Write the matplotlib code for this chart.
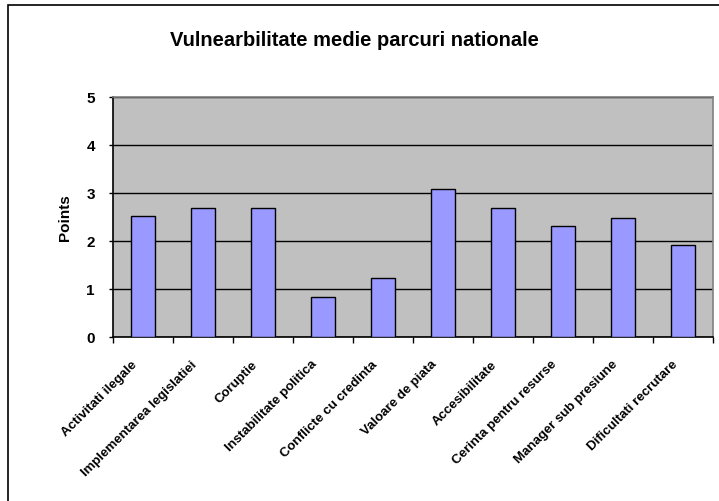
import numpy as np
import matplotlib.pyplot as plt
import matplotlib.transforms as mtransforms
from matplotlib.patches import Rectangle

plt.rcParams['font.family'] = ['Liberation Sans', 'DejaVu Sans']

# categorii si punctaje medii
categorii = ["Activitati ilegale", "Implementarea legislatiei", "Coruptie",
             "Instabilitate politica", "Conflicte cu credinta", "Valoare de piata",
             "Accesibilitate", "Cerinta pentru resurse", "Manager sub presiune",
             "Dificultati recrutare"]
puncte = [2.52, 2.68, 2.68, 0.84, 1.22, 3.08, 2.68, 2.31, 2.47, 1.91]

fig = plt.figure(figsize=(7.19, 5.02), dpi=100)
ax = fig.add_axes([0.157, 0.327, 0.835, 0.478])

x = np.arange(len(categorii))
ax.bar(x, puncte, width=0.4, color="#9999ff", edgecolor="black", linewidth=1.0, zorder=3)

ax.set_facecolor("#c0c0c0")
ax.set_xlim(-0.5, len(categorii) - 0.5)
ax.set_ylim(0, 5)
ax.set_yticks(range(6))
ax.yaxis.grid(True, color="black", linewidth=1.0, zorder=1)
ax.set_axisbelow(True)

# ticks between categories on the x axis
ax.set_xticks(np.arange(-0.5, len(categorii), 1.0), minor=False)
ax.set_xticklabels([])
ax.set_xticks(x, minor=True)
ax.set_xticklabels(categorii, minor=True, rotation=45, ha="right",
                   rotation_mode="anchor", fontsize=9.5, fontweight="bold")
ax.tick_params(axis="x", which="minor", length=0, pad=15)
ax.tick_params(axis="x", which="major", length=4, direction="out", width=1)
ax.tick_params(axis="y", length=3, direction="out", width=1, labelsize=11, pad=10)
for lab in ax.get_yticklabels():
    lab.set_fontweight("bold")

# mut etichetele putin spre stanga
offset = mtransforms.ScaledTranslation(-12 / 100, 0, fig.dpi_scale_trans)
for lab in ax.get_xticklabels(minor=True):
    lab.set_transform(lab.get_transform() + offset)

for s in ["top", "right"]:
    ax.spines[s].set_color("#808080")
    ax.spines[s].set_linewidth(1.2)
for s in ["left", "bottom"]:
    ax.spines[s].set_color("black")
    ax.spines[s].set_linewidth(1.2)

ax.set_ylabel("Points", fontsize=11, fontweight="bold", labelpad=10)
fig.text(0.493, 0.92, "Vulnearbilitate medie parcuri nationale", ha="center",
         va="center", fontsize=14.5, fontweight="bold")

# chenarul exterior al graficului
fig.patches.append(Rectangle((8 / 719, -0.05), 1.0, 1 - 6 / 502 + 0.05,
                             transform=fig.transFigure, fill=False,
                             edgecolor="black", linewidth=1.2))

fig.savefig("out.png", dpi=100)
